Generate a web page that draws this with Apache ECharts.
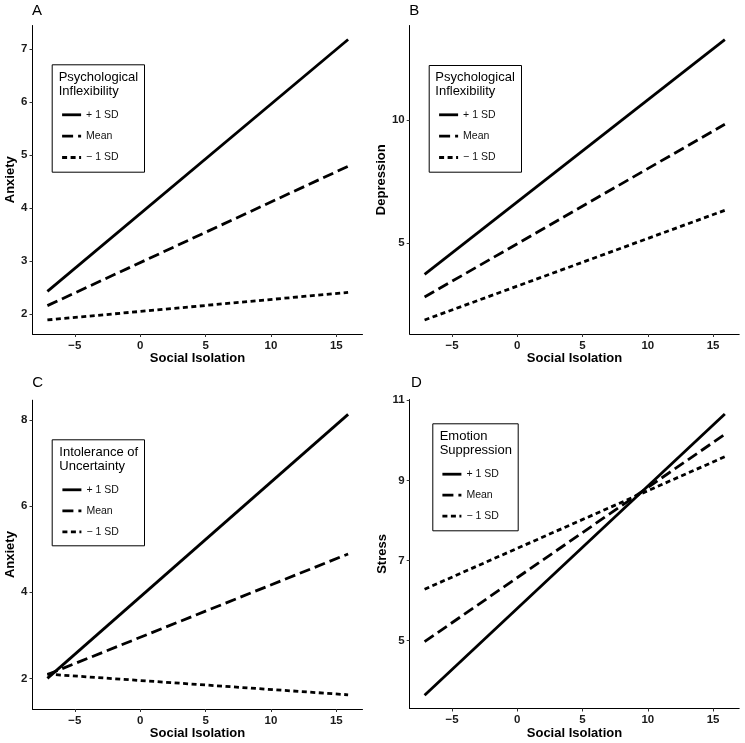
<!DOCTYPE html>
<html>
<head>
<meta charset="utf-8">
<script src="https://cdn.jsdelivr.net/npm/echarts@6/dist/echarts.min.js"></script>
<style>
html,body{margin:0;padding:0;background:#fff;}
#chart{width:745px;height:743px;}
</style>
</head>
<body>
<div id="chart"></div>
<script>
// ---------------- data ----------------
const isolation = [-7.1, 15.9];
const levelNames = ['+ 1 SD', 'Mean', '\u2212 1 SD'];
const xTicks = [-5, 0, 5, 10, 15];

const panelLetters = ['A', 'B', 'C', 'D'];
const yTitles = ['Anxiety', 'Depression', 'Anxiety', 'Stress'];
const legendTitles = ['Psychological\nInflexibility', 'Psychological\nInflexibility', 'Intolerance of\nUncertainty', 'Emotion\nSuppression'];

const aPlus = [2.43, 7.18];
const aMean = [2.16, 4.79];
const aMinus = [1.89, 2.41];

const bPlus = [3.74, 13.27];
const bMean = [2.82, 9.83];
const bMinus = [1.89, 6.34];

const cPlus = [2.0, 8.13];
const cMean = [2.09, 4.89];
const cMinus = [2.1, 1.62];

const dPlus = [3.63, 10.66];
const dMean = [4.97, 10.15];
const dMinus = [6.28, 9.59];

const aYTicks = [2, 3, 4, 5, 6, 7];
const bYTicks = [5, 10];
const cYTicks = [2, 4, 6, 8];
const dYTicks = [5, 7, 9, 11];

// ---------------- layout / style ----------------
const FONT = '"Liberation Sans", Arial, Helvetica, sans-serif';
const panelValues = [
  [aPlus, aMean, aMinus],
  [bPlus, bMean, bMinus],
  [cPlus, cMean, cMinus],
  [dPlus, dMean, dMinus]
];
const panelYTicks = [aYTicks, bYTicks, cYTicks, dYTicks];
const yRanges = [[1.625, 7.445], [1.32, 13.84], [1.29, 8.46], [3.30, 11.02]];
const xRange = [-8.24, 17.0];
const grids = [
  {left: 32.5, top: 25.5, width: 330, height: 308.5},
  {left: 409.7, top: 25.5, width: 329.5, height: 308.5},
  {left: 32.5, top: 400.2, width: 330, height: 308.8},
  {left: 409.7, top: 399.5, width: 329.5, height: 309}
];
const legendBoxes = [
  {x: 51.7, y: 64.3, w: 92.3, h: 107.4, tx: 58.7, ty: 71, items: 109.3, gap: 10.35},
  {x: 428.7, y: 65, w: 92.3, h: 106.7, tx: 435.3, ty: 71, items: 109.3, gap: 10.35},
  {x: 51.7, y: 439.3, w: 92.3, h: 106, tx: 59.3, ty: 445.9, items: 484.3, gap: 10},
  {x: 432.3, y: 423.3, w: 85.4, h: 107, tx: 439.7, ty: 429.6, items: 468.7, gap: 10}
];
const legendKeyLeft = [60.7, 437.7, 61, 441];
const letterPos = [[32, 11.5], [409.3, 11.5], [32.3, 383.5], [411, 383.7]];
const dashes = ['solid', [11, 5], [5, 3.5]];

const option = {
  animation: false,
  backgroundColor: '#fff',
  textStyle: {fontFamily: FONT},
  grid: grids.map(g => Object.assign({containLabel: false, outerBoundsMode: 'none'}, g)),
  xAxis: grids.map((g, i) => ({
    type: 'value', gridIndex: i, min: xRange[0], max: xRange[1],
    name: 'Social Isolation', nameLocation: 'middle', nameGap: 18,
    nameTextStyle: {fontFamily: FONT, fontSize: 13, fontWeight: 'bold', color: '#000'},
    axisLine: {show: true, onZero: false, lineStyle: {color: '#000', width: 1}},
    axisTick: {show: true, length: 3, customValues: xTicks, lineStyle: {color: '#333', width: 1}},
    axisLabel: {customValues: xTicks, margin: 5.5, fontFamily: FONT, fontSize: 11.5, fontWeight: 'bold', color: '#1a1a1a',
      formatter: v => String(v).replace('-', '\u2212')},
    splitLine: {show: false}
  })),
  yAxis: grids.map((g, i) => ({
    type: 'value', gridIndex: i, min: yRanges[i][0], max: yRanges[i][1],
    name: yTitles[i], nameLocation: 'middle', nameGap: 16, nameRotate: 90,
    nameTextStyle: {fontFamily: FONT, fontSize: 13, fontWeight: 'bold', color: '#000'},
    axisLine: {show: true, onZero: false, lineStyle: {color: '#000', width: 1}},
    axisTick: {show: true, length: 3, customValues: panelYTicks[i], lineStyle: {color: '#333', width: 1}},
    axisLabel: {customValues: panelYTicks[i], margin: 5, fontFamily: FONT, fontSize: 11.5, fontWeight: 'bold', color: '#1a1a1a'},
    splitLine: {show: false}
  })),
  legend: legendBoxes.map((b, i) => ({
    data: levelNames,
    orient: 'vertical',
    left: legendKeyLeft[i], top: b.items,
    padding: 0,
    itemWidth: 19, itemHeight: 10, itemGap: b.gap,
    selectedMode: false,
    itemStyle: {color: 'rgba(0,0,0,0)', borderColor: 'rgba(0,0,0,0)', borderWidth: 0, opacity: 0},
    lineStyle: {color: '#000', width: 2.8},
    textStyle: {fontFamily: FONT, fontSize: 10.5, color: '#111'},
    z: 10
  })),
  series: [],
  graphic: []
};

panelValues.forEach((vals, p) => {
  vals.forEach((v, k) => {
    option.series.push({
      type: 'line', name: levelNames[k], xAxisIndex: p, yAxisIndex: p,
      data: isolation.map((x, j) => [x, v[j]]),
      symbol: 'none', showSymbol: false, silent: true,
      lineStyle: {color: '#000', width: 2.8, type: dashes[k], cap: 'butt'},
      itemStyle: {color: '#000'},
      z: 3
    });
  });
});

legendBoxes.forEach((b, i) => {
  option.graphic.push({
    type: 'rect', left: b.x, top: b.y, z: 5,
    shape: {width: b.w, height: b.h},
    style: {fill: '#fff', stroke: '#000', lineWidth: 1}
  });
  option.graphic.push({
    type: 'text', left: b.tx, top: b.ty, z: 6,
    style: {text: legendTitles[i], font: '13px ' + FONT, fill: '#000', lineHeight: 13.6}
  });
});
letterPos.forEach((pos, i) => {
  option.graphic.push({
    type: 'text', left: pos[0], top: pos[1] - 8, z: 6,
    style: {text: panelLetters[i], font: '15px ' + FONT, fill: '#000'}
  });
});

const chart = echarts.init(document.getElementById('chart'), null, {renderer: 'canvas'});
chart.setOption(option);
</script>
</body>
</html>
